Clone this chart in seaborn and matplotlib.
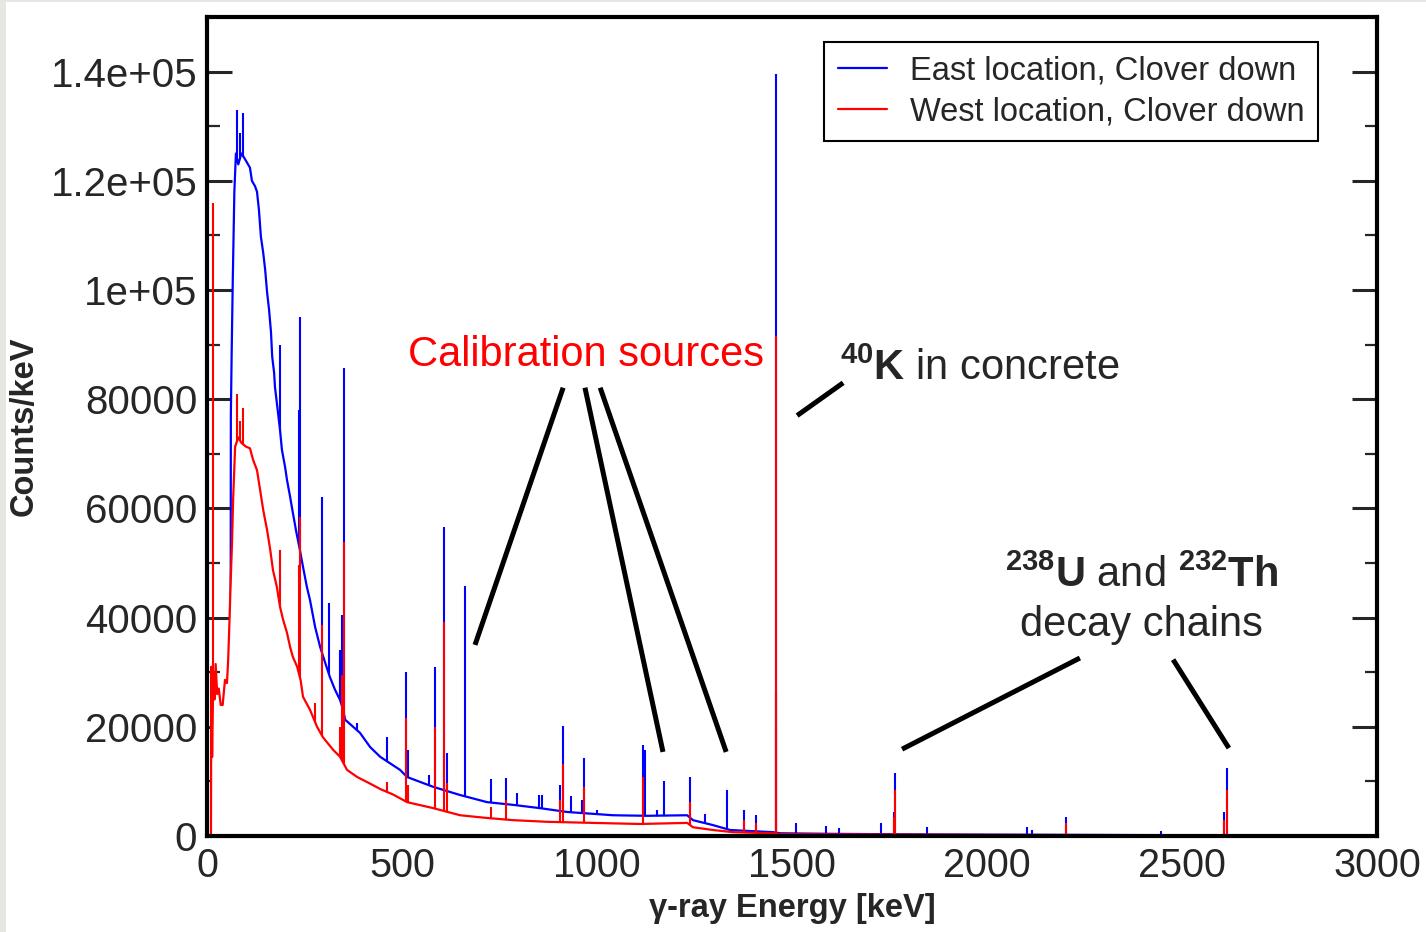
import numpy as np
import pandas as pd
import matplotlib
matplotlib.use("Agg")
import matplotlib.pyplot as plt
import seaborn as sns
from matplotlib.patches import Rectangle
from matplotlib.ticker import MultipleLocator

# continuum of each spectrum (keV, counts/keV)
east_energy = [0, 60, 61, 63, 66, 70, 74, 80, 88, 97, 110, 115, 123, 128, 133, 138, 144, 149,
               154, 159, 164, 167, 172, 174, 182, 187, 192, 200, 205, 213, 220, 228, 238, 246,
               256, 264, 277, 290, 303, 315, 328, 341, 349, 354, 392, 418, 444, 495, 513, 580,
               649, 718, 785, 854, 923, 1041, 1128, 1231, 1246, 1297, 1341, 1451, 1470, 1600,
               1800, 2000, 2500, 3000]
east_counts = [0, 0, 77000, 88000, 102000, 118000, 125000, 123000, 125000, 124000, 122400,
               120000, 119000, 118000, 114700, 109800, 106800, 103700, 99500, 96400, 92200,
               87800, 84800, 82300, 77500, 74400, 70700, 67600, 65200, 62100, 59200, 56000,
               52400, 49300, 45600, 43200, 38300, 34600, 31700, 29100, 26800, 24900, 23100,
               21300, 18900, 16300, 14500, 12100, 10800, 9000, 7500, 6200, 5700, 5100, 4400,
               3800, 3700, 3800, 2900, 2000, 1100, 700, 500, 400, 300, 250, 150, 100]

west_energy = [0, 10, 11, 13, 16, 19, 22, 26, 30, 35, 40, 46, 51, 54, 57, 61, 64, 67, 72, 80,
               88, 100, 110, 118, 128, 136, 144, 154, 162, 169, 179, 187, 195, 205, 213, 220,
               231, 240, 246, 264, 282, 297, 323, 341, 359, 385, 426, 444, 477, 513, 580, 649,
               718, 785, 872, 990, 1110, 1231, 1246, 1297, 1349, 1451, 1470, 1600, 2000, 2500,
               3000]
west_counts = [0, 0, 31000, 14500, 30000, 25000, 31500, 26000, 27000, 24000, 24000, 28600,
               28000, 32000, 38300, 47500, 53700, 62000, 71300, 73000, 72000, 71300, 71000,
               68900, 67000, 63400, 59700, 56000, 52400, 48700, 45600, 42000, 39600, 37200,
               34600, 32800, 31000, 28500, 25500, 23100, 20000, 18100, 15800, 14500, 12100,
               10800, 9300, 8600, 7600, 6200, 5100, 3800, 3300, 2900, 2600, 2400, 2200, 2400,
               1600, 1100, 700, 500, 350, 300, 200, 150, 100]

# gamma lines (keV, peak counts/keV)
east_peak_energy = [77, 85, 92, 187, 236, 238, 295, 313, 340, 342, 346, 352, 385, 462, 510,
                    514, 569, 585, 608, 614, 662, 728, 767, 794, 850, 860, 905, 912, 933, 961,
                    967, 1000, 1118, 1123, 1153, 1172, 1238, 1277, 1333, 1377, 1407, 1458, 1460,
                    1510, 1588, 1620, 1728, 1762, 1764, 1846, 2103, 2115, 2203, 2446, 2608, 2614]
east_peak_counts = [133000, 128800, 132500, 90000, 78000, 95100, 62000, 42700, 29500, 34000,
                    40500, 85800, 20700, 18100, 30000, 15800, 11200, 31000, 56600, 15200, 45800,
                    10400, 10600, 7900, 7500, 7500, 9300, 20200, 7300, 6600, 14300, 4800, 16700,
                    15800, 4800, 10100, 10800, 4000, 8400, 4800, 3800, 26600, 139500, 2400, 1800,
                    1500, 2400, 4400, 11500, 1700, 1700, 1100, 3500, 900, 4400, 12500]

west_peak_energy = [15, 77, 85, 92, 187, 236, 238, 277, 295, 342, 346, 352, 462, 510, 514, 585,
                    608, 614, 728, 767, 905, 912, 967, 1118, 1238, 1377, 1407, 1458, 1460, 1762,
                    1764, 2203, 2608, 2614]
west_peak_counts = [116000, 81000, 76000, 78400, 52400, 49600, 58500, 24400, 38700, 20000, 29500,
                    53900, 9900, 21600, 9300, 20000, 39200, 9700, 5300, 6600, 6600, 13200, 9000,
                    10800, 6200, 2900, 2400, 20000, 91500, 3500, 8400, 2400, 3000, 8400]

series_labels = ["East location, Clover down", "West location, Clover down"]
y_ticks = [0, 20000, 40000, 60000, 80000, 100000, 120000, 140000]
y_tick_labels = ["0", "20000", "40000", "60000", "80000", "1e+05", "1.2e+05", "1.4e+05"]
x_ticks = [0, 500, 1000, 1500, 2000, 2500, 3000]

sns.set_style("ticks")
plt.rcParams["font.family"] = ["Liberation Sans", "DejaVu Sans"]
plt.rcParams["mathtext.fontset"] = "custom"
plt.rcParams["mathtext.rm"] = "Liberation Sans"
plt.rcParams["mathtext.bf"] = "Liberation Sans:bold"

fig = plt.figure(figsize=(14.26, 9.32), dpi=100)
fig.patch.set_facecolor("white")
fig.add_artist(Rectangle((0, 0), 6 / 1426, 1, transform=fig.transFigure, color="#e8e6e3", lw=0))
fig.add_artist(Rectangle((0, 1 - 2 / 932), 1, 2 / 932, transform=fig.transFigure, color="#e8e6e3", lw=0))
ax = fig.add_axes([0.1452, 0.1030, 0.8205, 0.8788])

east = pd.DataFrame({"energy": east_energy, "counts": east_counts})
west = pd.DataFrame({"energy": west_energy, "counts": west_counts})

# east: peaks, then blank out below the continuum, then the continuum
ax.vlines(east_peak_energy, 0, east_peak_counts, color="#0000ff", lw=1.5, zorder=2.0)
ax.fill_between(east["energy"], 0, east["counts"], color="white", lw=0, zorder=2.1)
sns.lineplot(data=east, x="energy", y="counts", color="#0000ff", lw=1.6,
             label=series_labels[0], ax=ax, zorder=2.2)

# west on top
ax.vlines(west_peak_energy, 0, west_peak_counts, color="#ff0000", lw=1.5, zorder=2.3)
ax.fill_between(west["energy"], 0, west["counts"], color="white", lw=0, zorder=2.4)
sns.lineplot(data=west, x="energy", y="counts", color="#ff0000", lw=1.6,
             label=series_labels[1], ax=ax, zorder=2.5)

ax.set_xlim(0, 3000)
ax.set_ylim(0, 150000)
ax.set_xticks(x_ticks)
ax.set_xticklabels([str(t) for t in x_ticks])
ax.set_yticks(y_ticks)
ax.set_yticklabels(y_tick_labels)
ax.yaxis.set_minor_locator(MultipleLocator(10000))
ax.tick_params(axis="x", length=0, labelsize=28.5, pad=8)
ax.tick_params(axis="y", which="major", direction="in", length=18, width=2.2,
               left=True, right=True, labelsize=29, pad=7)
ax.tick_params(axis="y", which="minor", direction="in", length=9, width=1.6,
               left=True, right=True)
for s in ax.spines.values():
    s.set_linewidth(3)
    s.set_color("black")
    s.set_zorder(5)

ax.set_xlabel("γ-ray Energy [keV]", fontsize=23.5, fontweight="bold")
ax.set_ylabel("Counts/keV", fontsize=23.5, fontweight="bold")
ax.xaxis.set_label_coords(0.5, -0.069)
ax.yaxis.set_label_coords(-0.143, 0.5)

leg = ax.legend(loc="upper right", bbox_to_anchor=(0.9496, 0.9695), borderaxespad=0,
                fontsize=23.5, frameon=True, fancybox=False, framealpha=1, edgecolor="black",
                handlelength=1.5, handletextpad=0.7, labelspacing=0.3, borderpad=0.42)
leg.get_frame().set_linewidth(1.5)
leg.set_zorder(6)

# annotations
ax.text(972, 86100, "Calibration sources", color="red", fontsize=30, ha="center", va="baseline", zorder=6)
ax.text(1623, 83500, r"$^{\mathbf{40}}\mathbf{K}$ in concrete", fontsize=30, ha="left", va="baseline", zorder=6)
ax.text(2397, 45600, r"$^{\mathbf{238}}\mathbf{U}$ and $^{\mathbf{232}}\mathbf{Th}$", fontsize=30,
        ha="center", va="baseline", zorder=6)
ax.text(2397, 36700, "decay chains", fontsize=30, ha="center", va="baseline", zorder=6)

pointer_lines = [((913, 82100), (687, 35000)),
                 ((969, 82100), (1169, 15400)),
                 ((1008, 82100), (1331, 15400)),
                 ((1631, 83000), (1513, 77000)),
                 ((2238, 32600), (1782, 15900)),
                 ((2477, 32300), (2620, 16100))]
for (x0, y0), (x1, y1) in pointer_lines:
    ax.plot([x0, x1], [y0, y1], color="black", lw=3.6, solid_capstyle="butt", zorder=6)

fig.savefig("out.png", dpi=100)
